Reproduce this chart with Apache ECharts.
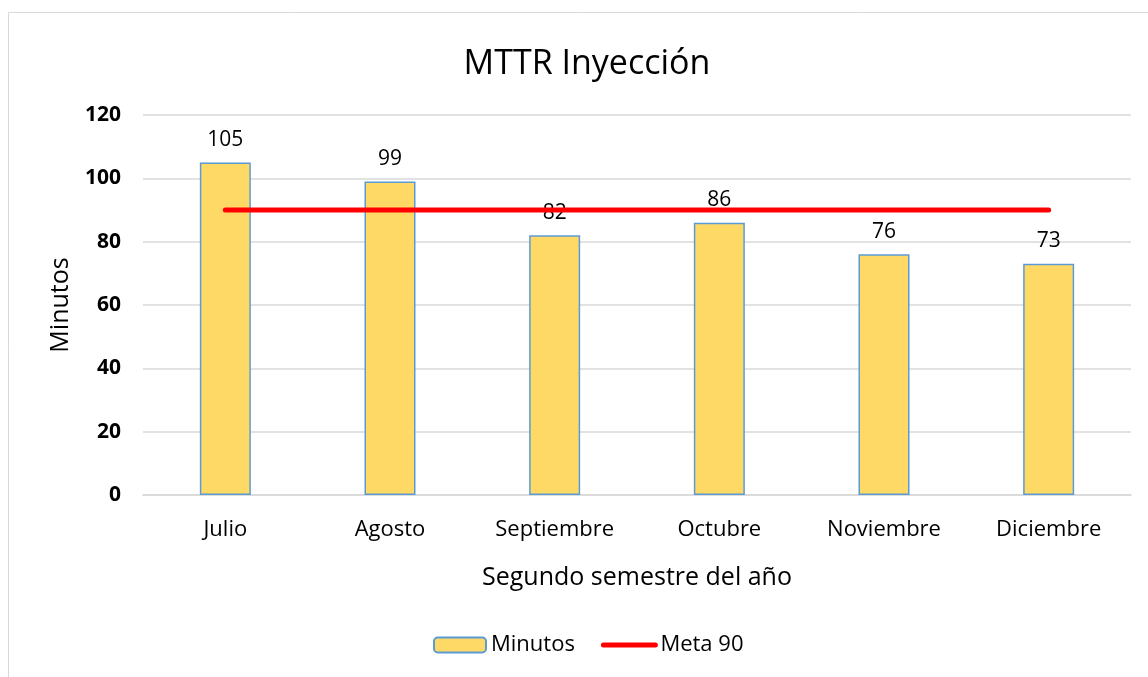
<!DOCTYPE html>
<html><head><meta charset="utf-8">
<script src="https://cdn.jsdelivr.net/npm/echarts@6/dist/echarts.min.js"></script>
<style>html,body{margin:0;padding:0;background:#fff}#c{width:1148px;height:677px}</style>
</head><body><div id="c"></div>
<script>
const categories = ['Julio','Agosto','Septiembre','Octubre','Noviembre','Diciembre'];
const minutos = [105, 99, 82, 86, 76, 73];
const meta = [90, 90, 90, 90, 90, 90];
const yTicks = [0, 20, 40, 60, 80, 100, 120];
const F = '"Open Sans", "Noto Sans", sans-serif';
const chart = echarts.init(document.getElementById('c'));
chart.setOption({
  animation: false,
  backgroundColor: '#fff',
  graphic: [{type:'rect', shape:{x:8.5,y:12.5,width:1160,height:700}, style:{fill:'none', stroke:'#d9d9d9', lineWidth:1}, silent:true}],
  title: {text:'MTTR Inyección', left:582, top:42, textAlign:'center', textStyle:{fontFamily:F, fontSize:34, fontWeight:'normal', color:'#000'}},
  grid: {left:143, right:17, top:115, bottom:182},
  legend: {bottom:16, left:428, itemGap:26, itemWidth:52, itemHeight:15,
    textStyle:{fontFamily:F, fontSize:22, color:'#000', padding:[0,0,0,0]},
    data:[{name:'Minutos'}, {name:'Meta 90', itemStyle:{opacity:0}, lineStyle:{width:5, color:'#FF0000', cap:'round'}}]},
  xAxis: {type:'category', data:categories, name:'Segundo semestre del año', nameLocation:'middle', nameGap:70,
    nameTextStyle:{fontFamily:F, fontSize:25, color:'#000'},
    axisLine:{lineStyle:{color:'#d9d9d9', width:1.5}}, axisTick:{show:false},
    axisLabel:{fontFamily:F, fontSize:22, color:'#000', margin:24}},
  yAxis: {type:'value', min:yTicks[0], max:yTicks[yTicks.length-1], interval:20, name:'Minutos', nameLocation:'middle', nameGap:70,
    nameTextStyle:{fontFamily:F, fontSize:25, color:'#000'},
    axisLine:{show:false}, axisTick:{show:false},
    splitLine:{lineStyle:{color:'#d9d9d9', width:1.5}},
    axisLabel:{fontFamily:F, fontSize:21, fontWeight:'bold', color:'#000', margin:22}},
  series: [
    {name:'Minutos', type:'bar', data:minutos, barWidth:51,
      itemStyle:{color:'#FFD966', borderColor:'#5B9BD5', borderWidth:1.5},
      label:{show:true, position:'top', distance:12, fontFamily:F, fontSize:21, color:'#000'}},
    {name:'Meta 90', type:'line', data:meta, symbol:'none', z:5,
      lineStyle:{color:'#FF0000', width:5, cap:'round'}, itemStyle:{color:'#FF0000'}}
  ]
});
</script></body></html>
